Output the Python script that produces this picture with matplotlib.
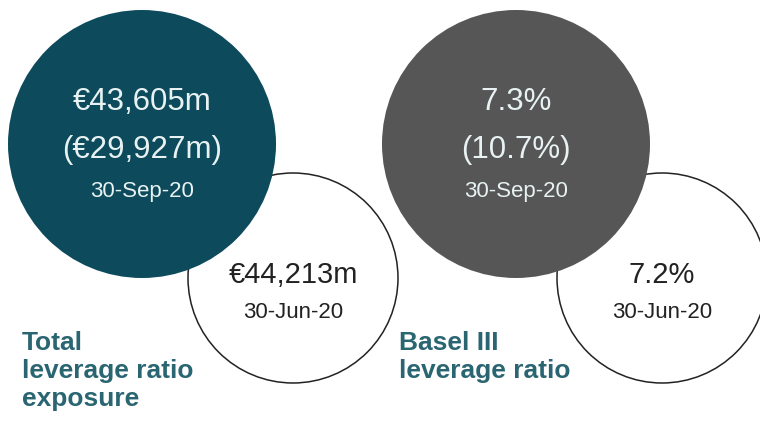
import matplotlib.pyplot as plt
from matplotlib.patches import Circle

plt.rcParams['font.family'] = ['Liberation Sans', 'DejaVu Sans']

# datos
metrics = ["Total\nleverage ratio\nexposure", "Basel III\nleverage ratio"]
current_value = ["€43,605m", "7.3%"]
current_alt = ["(€29,927m)", "(10.7%)"]
current_date = "30-Sep-20"
previous_value = ["€44,213m", "7.2%"]
previous_date = "30-Jun-20"
fill_colors = ["#0c4a5c", "#565657"]

# layout en pixeles
big_centers = [(142, 144), (516, 144)]
small_centers = [(293, 278), (662, 278)]
label_pos = [(22, 331), (399, 331)]
big_r = 134
small_r = 105

fig = plt.figure(figsize=(7.6, 4.22), dpi=100)
ax = fig.add_axes([0, 0, 1, 1])
ax.set_xlim(0, 760)
ax.set_ylim(422, 0)
ax.set_aspect("equal")
ax.axis("off")

for i in range(len(metrics)):
    sx, sy = small_centers[i]
    ax.add_patch(Circle((sx, sy), small_r, facecolor="white", edgecolor="#222222", lw=1.1, zorder=1))
    bx, by = big_centers[i]
    ax.add_patch(Circle((bx, by), big_r, facecolor=fill_colors[i], edgecolor="none", zorder=2))

    ax.text(bx, by - 42, current_value[i], color="#e8f2f2", fontsize=22.5, ha="center", va="center", zorder=3)
    ax.text(bx, by + 6, current_alt[i], color="#e8f2f2", fontsize=22.5, ha="center", va="center", zorder=3)
    ax.text(bx, by + 48, current_date, color="#e8f2f2", fontsize=16, ha="center", va="center", zorder=3)

    ax.text(sx, sy - 3, previous_value[i], color="#222222", fontsize=21, ha="center", va="center", zorder=3)
    ax.text(sx, sy + 35, previous_date, color="#222222", fontsize=16, ha="center", va="center", zorder=3)

    lx, ly = label_pos[i]
    ax.text(lx, ly, metrics[i], color="#2a6572", fontsize=19, fontweight="bold",
            ha="left", va="top", linespacing=1.22, zorder=3)

fig.savefig("out.png", dpi=100)
